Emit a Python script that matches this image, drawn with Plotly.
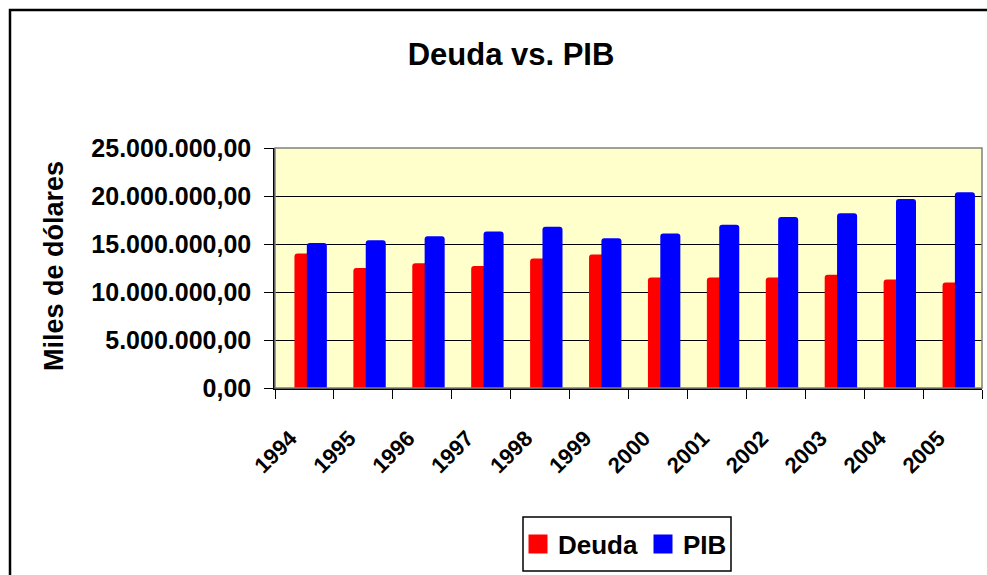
import plotly.graph_objects as go

years = ["1994", "1995", "1996", "1997", "1998", "1999",
         "2000", "2001", "2002", "2003", "2004", "2005"]
deuda = [14.0e6, 12.5e6, 13.0e6, 12.7e6, 13.5e6, 13.9e6,
         11.5e6, 11.5e6, 11.5e6, 11.8e6, 11.3e6, 11.0e6]
pib = [15.1e6, 15.4e6, 15.8e6, 16.3e6, 16.8e6, 15.6e6,
       16.1e6, 17.0e6, 17.8e6, 18.2e6, 19.7e6, 20.4e6]

RED, BLUE = "#FF0000", "#0000FF"
FONT = "Arial, Liberation Sans, sans-serif"
W, H = 987, 575
L, R, T, B = 275, 5, 148, 187
PW, PH = W - L - R, H - T - B

def px(x):
    return (x - L) / PW

def py(y):
    return (H - B - y) / PH

fig = go.Figure()
fig.add_trace(go.Bar(x=years, y=deuda, name="Deuda", marker_color=RED,
                     marker_line_width=0, offset=-0.17, width=0.34,
                     marker_cornerradius=3, showlegend=False))
fig.add_trace(go.Bar(x=years, y=pib, name="PIB", marker_color=BLUE,
                     marker_line_width=0, offset=0.04, width=0.34,
                     marker_cornerradius=3, showlegend=False))
# legend entries (square swatches)
fig.add_trace(go.Scatter(x=[None], y=[None], mode="markers", name="Deuda",
                         marker=dict(symbol="square", size=16, color=RED,
                                     line=dict(color=RED, width=3))))
fig.add_trace(go.Scatter(x=[None], y=[None], mode="markers", name="PIB",
                         marker=dict(symbol="square", size=16, color=BLUE,
                                     line=dict(color=BLUE, width=3))))

fig.update_layout(
    width=W, height=H,
    margin=dict(l=L, r=R, t=T, b=B, autoexpand=False),
    paper_bgcolor="white", plot_bgcolor="#FFFFCC",
    barmode="overlay",
    separators=",.",
    font=dict(family=FONT, color="black"),
    title=dict(text="Deuda vs. PIB", x=511 / W, xanchor="center",
               y=1 - 54 / H, yanchor="middle",
               font=dict(size=31, family=FONT, weight="bold", color="black")),
    legend=dict(orientation="h", x=px(625), xanchor="center",
                y=py(544), yanchor="middle", borderwidth=0,
                bgcolor="rgba(0,0,0,0)",
                font=dict(size=26, family=FONT, weight="bold"),
                itemsizing="trace", itemwidth=30, traceorder="normal"),
    showlegend=True,
)

fig.update_xaxes(type="category", tickson="boundaries", ticks="outside",
                 ticklen=9, tickcolor="black", tickwidth=1,
                 showline=True, linecolor="black", linewidth=1.5,
                 showgrid=False, tickangle=-45,
                 ticklabelstandoff=27, ticklabelshift=-14,
                 tickfont=dict(size=22, family=FONT, weight="bold"),
                 range=[-0.5, 11.5], fixedrange=True)
fig.update_yaxes(range=[0, 25e6], dtick=5e6, tickformat=",.2f",
                 ticks="outside", ticklen=9, tickcolor="black",
                 showline=True, linecolor="black", linewidth=1.5,
                 showgrid=True, gridcolor="black", gridwidth=1,
                 zeroline=False, ticklabelstandoff=8,
                 tickfont=dict(size=25, family=FONT, weight="bold"),
                 fixedrange=True)

# plot area border (gray), legend box and outer chart border (black)
fig.add_shape(type="rect", xref="paper", yref="paper", x0=0, y0=0, x1=1, y1=1,
              line=dict(color="#808080", width=1.5), layer="above")
fig.add_shape(type="rect", xref="paper", yref="paper",
              x0=px(523), y0=py(571), x1=px(731), y1=py(517),
              line=dict(color="black", width=1.5))
fig.add_shape(type="rect", xref="paper", yref="paper",
              x0=px(10), y0=py(H + 10), x1=px(W + 10), y1=py(10),
              line=dict(color="black", width=2.5))

fig.add_annotation(text="Miles de dólares", textangle=-90, xref="paper",
                   yref="paper", x=px(54), y=py(266), xanchor="center",
                   yanchor="middle", showarrow=False,
                   font=dict(size=27, family=FONT, weight="bold", color="black"))

fig.write_html("out.html", config={"displayModeBar": False},
               post_script="document.body.style.margin='0px';"
                           "document.body.style.overflow='hidden';")
